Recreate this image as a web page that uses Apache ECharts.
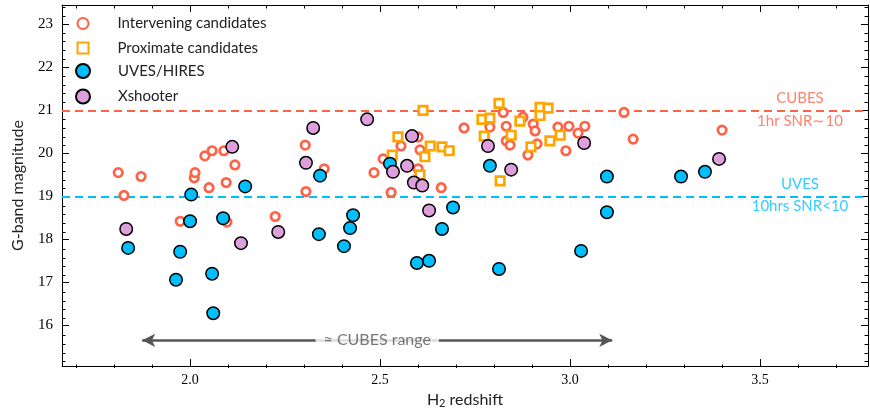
<!DOCTYPE html>
<html><head><meta charset="utf-8">
<script src="https://cdn.jsdelivr.net/npm/echarts@6/dist/echarts.min.js"></script>
<style>html,body{margin:0;padding:0;background:#fff}#c{width:870px;height:414px}</style>
</head><body><div id="c"></div>
<script>
// ---- data: [H2 redshift, G-band magnitude] ----
const intervening = [
 [1.811,19.55],[1.826,19.02],[1.871,19.46],[1.974,18.42],[2.011,19.43],[2.013,19.55],
 [2.039,19.94],[2.058,20.06],[2.089,20.06],[2.118,19.73],[2.050,19.20],[2.095,19.32],
 [2.097,18.40],[2.224,18.53],[2.303,20.19],[2.305,19.11],[2.353,19.64],[2.484,19.55],
 [2.508,19.87],[2.529,19.09],[2.555,20.17],[2.600,20.38],[2.605,20.08],[2.600,19.64],
 [2.661,19.20],[2.721,20.59],[2.824,20.95],[2.789,20.61],[2.832,20.63],[2.832,20.29],
 [2.842,20.19],[2.876,20.84],[2.903,20.68],[2.908,20.52],[2.889,19.96],[2.913,20.22],
 [2.968,20.61],[2.997,20.63],[3.039,20.63],[3.021,20.47],[2.989,20.06],[3.142,20.95],
 [3.166,20.33],[3.400,20.54]
];
const proximate = [
 [2.532,19.96],[2.547,20.38],[2.605,19.50],[2.613,21.00],[2.618,19.92],[2.632,20.17],
 [2.663,20.15],[2.682,20.06],[2.768,20.79],[2.789,20.82],[2.774,20.40],[2.813,21.16],
 [2.845,20.42],[2.868,20.75],[2.897,20.15],[2.921,21.07],[2.942,21.05],[2.921,20.88],
 [2.947,20.29],[2.974,20.42],[2.816,19.36]
];
const uvesHires = [
 [1.837,17.80],[1.963,17.06],[1.974,17.71],[2.000,18.42],[2.003,19.04],[2.058,17.20],
 [2.061,16.28],[2.087,18.49],[2.145,19.23],[2.342,19.48],[2.339,18.12],[2.405,17.84],
 [2.421,18.26],[2.429,18.56],[2.526,19.76],[2.597,17.45],[2.629,17.50],[2.663,18.24],
 [2.692,18.74],[2.789,19.71],[2.813,17.31],[3.029,17.73],[3.097,18.63],[3.097,19.46],
 [3.292,19.46],[3.355,19.57]
];
const xshooter = [
 [1.832,18.24],[2.111,20.15],[2.134,17.91],[2.232,18.17],[2.305,19.78],[2.324,20.59],
 [2.466,20.79],[2.584,20.40],[2.571,19.71],[2.534,19.57],[2.589,19.32],[2.611,19.25],
 [2.629,18.67],[2.784,20.17],[2.845,19.62],[3.037,20.24],[3.392,19.87]
];
const cubesLimit = 21;   // CUBES 1hr SNR~10
const uvesLimit = 19;    // UVES 10hrs SNR<10
const cubesRange = [1.874, 3.111];
const xMajorTicks = [2.0, 2.5, 3.0, 3.5];
const xMinorTicks = [1.7,1.8,1.9,2.1,2.2,2.3,2.4,2.6,2.7,2.8,2.9,3.1,3.2,3.3,3.4,3.6,3.7];
const yMajorTicks = [16, 17, 18, 19, 20, 21, 22, 23];
const yMinorTicks = [15.2,15.4,15.6,15.8,16.2,16.4,16.6,16.8,17.2,17.4,17.6,17.8,18.2,18.4,18.6,18.8,
 19.2,19.4,19.6,19.8,20.2,20.4,20.6,20.8,21.2,21.4,21.6,21.8,22.2,22.4,22.6,22.8,23.2,23.4];

const X_MIN = 1.663, X_MAX = 3.784, Y_MIN = 15.05, Y_MAX = 23.45;
const RED = '#ff6347', ORANGE = '#ffa500', BLUE = '#00bfff', PURPLE = '#dda0dd';
const SANS = 'Lato', SERIF = 'Liberation Serif';

function mkX(grid, pos, ticks, len, main) {
  return {
    type: 'value', gridIndex: grid, position: pos, min: X_MIN, max: X_MAX,
    axisLine: { show: main, onZero: false, lineStyle: { color: '#000', width: 1 } },
    axisTick: { show: true, inside: true, length: len, customValues: ticks, lineStyle: { color: '#000', width: 1 } },
    axisLabel: { show: main && pos === 'bottom', customValues: ticks, formatter: v => v.toFixed(1),
      fontFamily: SERIF, fontSize: 14, color: '#000', margin: 7 },
    splitLine: { show: false },
    name: (main && pos === 'bottom') ? '{a|H}{s|2}{a| redshift}' : '',
    nameLocation: 'middle', nameGap: 22,
    nameTextStyle: { rich: {
      a: { fontFamily: SANS, fontSize: 16, color: '#222', lineHeight: 18, verticalAlign: 'middle' },
      s: { fontFamily: SANS, fontSize: 11, color: '#222', lineHeight: 10, verticalAlign: 'bottom' } } }
  };
}
function mkY(grid, pos, ticks, len, main) {
  return {
    type: 'value', gridIndex: grid, position: pos, min: Y_MIN, max: Y_MAX,
    axisLine: { show: main, onZero: false, lineStyle: { color: '#000', width: 1 } },
    axisTick: { show: true, inside: true, length: len, customValues: ticks, lineStyle: { color: '#000', width: 1 } },
    axisLabel: { show: main && pos === 'left', customValues: ticks, formatter: v => String(Math.round(v)),
      fontFamily: SERIF, fontSize: 15, color: '#000', margin: 9 },
    splitLine: { show: false },
    name: (main && pos === 'left') ? 'G-band magnitude' : '',
    nameLocation: 'middle', nameGap: 36,
    nameTextStyle: { fontFamily: SANS, fontSize: 16, color: '#222' }
  };
}

const gridBox = { left: 62, right: 2, top: 5, bottom: 46 };
const legendText = { fontFamily: SANS, fontSize: 15, color: '#222', lineHeight: 14, padding: [0, 0, 0, 24] };
const chart = echarts.init(document.getElementById('c'), null, { renderer: 'canvas' });
chart.setOption({
  animation: false,
  backgroundColor: '#fff',
  grid: [Object.assign({}, gridBox), Object.assign({}, gridBox)],
  xAxis: [
    mkX(0, 'bottom', xMajorTicks, 7, true), mkX(0, 'top', xMajorTicks, 7, true),
    mkX(1, 'bottom', xMinorTicks, 3.5, false), mkX(1, 'top', xMinorTicks, 3.5, false)
  ],
  yAxis: [
    mkY(0, 'left', yMajorTicks, 7, true), mkY(0, 'right', yMajorTicks, 7, true),
    mkY(1, 'left', yMinorTicks, 3.5, false), mkY(1, 'right', yMinorTicks, 3.5, false)
  ],
  legend: [
    { data: ['Intervening candidates', 'Proximate candidates'], orient: 'vertical', left: 76.5, top: 16,
      padding: 0, itemWidth: 11, itemHeight: 11, itemGap: 9.5, selectedMode: false,
      textStyle: legendText },
    { data: ['UVES/HIRES', 'Xshooter'], orient: 'vertical', left: 75, top: 63,
      padding: 0, itemWidth: 14, itemHeight: 14, itemGap: 9.5, selectedMode: false,
      textStyle: Object.assign({}, legendText, { padding: [0, 0, 0, 23] }) }
  ],
  series: [
    { name: 'Intervening candidates', type: 'scatter', xAxisIndex: 0, yAxisIndex: 0, z: 3,
      symbol: 'circle', symbolSize: 8.5, data: intervening,
      itemStyle: { color: '#fff', borderColor: RED, borderWidth: 2.7, opacity: 1 },
      markLine: { silent: true, symbol: 'none', z: 1, label: { show: false },
        data: [
          { yAxis: cubesLimit, lineStyle: { color: RED, width: 2, type: [8, 5] } },
          { yAxis: uvesLimit, lineStyle: { color: BLUE, width: 2, type: [8, 5] } }
        ] } },
    { name: 'Proximate candidates', type: 'scatter', xAxisIndex: 0, yAxisIndex: 0, z: 4,
      symbol: 'rect', symbolSize: 8.5, data: proximate,
      itemStyle: { color: '#fff', borderColor: ORANGE, borderWidth: 2.7, opacity: 1 } },
    { name: 'UVES/HIRES', type: 'scatter', xAxisIndex: 0, yAxisIndex: 0, z: 5,
      symbol: 'circle', symbolSize: 12.5, data: uvesHires,
      itemStyle: { color: BLUE, borderColor: '#000', borderWidth: 1.5, opacity: 1 } },
    { name: 'Xshooter', type: 'scatter', xAxisIndex: 0, yAxisIndex: 0, z: 6,
      symbol: 'circle', symbolSize: 12.5, data: xshooter,
      itemStyle: { color: PURPLE, borderColor: '#000', borderWidth: 1.5, opacity: 1 } },
    { name: 'notes', type: 'scatter', xAxisIndex: 0, yAxisIndex: 0, z: 8, symbolSize: 0, silent: true,
      label: { show: true, position: 'inside', fontFamily: SANS, fontSize: 15 },
      data: [
        { value: [3.605, cubesLimit + 0.28], label: { formatter: 'CUBES', color: RED } },
        { value: [3.605, cubesLimit - 0.25], label: { formatter: '1hr SNR\u223C10', color: RED } },
        { value: [3.605, uvesLimit + 0.29], label: { formatter: 'UVES', color: BLUE } },
        { value: [3.605, uvesLimit - 0.23], label: { formatter: '10hrs SNR<10', color: BLUE } },
        { value: [(cubesRange[0] + cubesRange[1]) / 2, 15.65],
          label: { formatter: '\u2248 CUBES range', color: '#555', fontFamily: SANS, fontSize: 16,
            backgroundColor: '#fff', padding: [2, 8] } }
      ],
      markLine: { silent: true, z: 7, symbol: ['arrow', 'arrow'], symbolSize: [10, 13],
        label: { show: false },
        lineStyle: { color: '#555', width: 2.5, type: 'solid' },
        data: [[{ coord: [cubesRange[0], 15.65] }, { coord: [cubesRange[1], 15.65] }]] } }
  ]
});
</script></body></html>
